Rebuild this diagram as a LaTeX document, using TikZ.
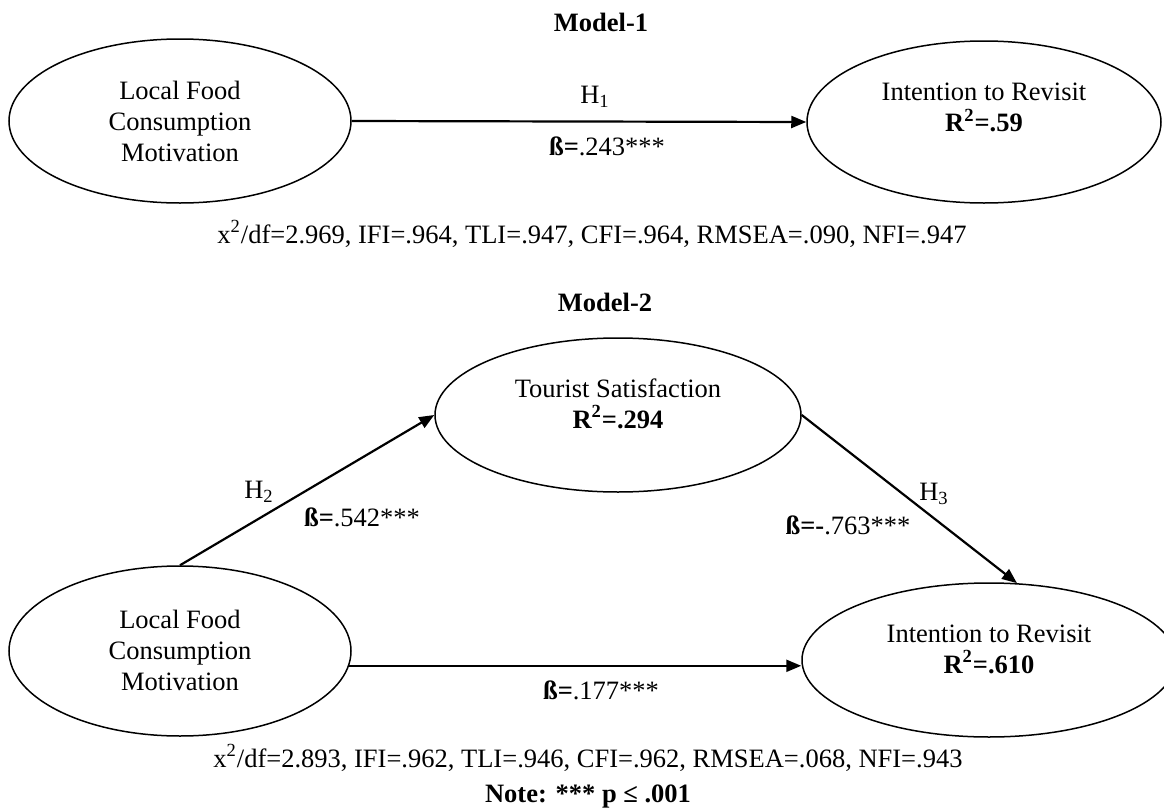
\documentclass[tikz,border=0pt]{standalone}
\usepackage{fontspec}
\setmainfont{Liberation Serif}
\usetikzlibrary{arrows.meta,shapes.geometric}
\begin{document}
\begin{tikzpicture}[x=0.5pt,y=-0.5pt,
  ell/.style={draw, ellipse, line width=0.75pt, inner sep=0pt},
  txt/.style={align=center, font=\fontsize{13.25}{15.5}\selectfont, inner sep=0pt},
  ttl/.style={font=\fontsize{13.25}{15.5}\selectfont\bfseries, inner sep=0pt},
  arr/.style={line width=1.1pt, -{Triangle[length=7.5pt,width=6pt]}}]
\clip (0,0) rectangle (1164,809);
% ---------- Model 1 ----------
\node[ttl] (t1) at (601,22) {Model-1};
\node[ell, minimum width=171pt, minimum height=82pt] (e1) at (180,121) {};
\node[txt] (e1t) at (180,121) {Local Food\\Consumption\\Motivation};
\node[ell, minimum width=177pt, minimum height=81pt] (e2) at (984,122) {};
\node[txt] (e2t) at (984,107.5) {Intention to Revisit\\\textbf{R\textsuperscript{2}=.59}};
\draw[arr] (e1.east) -- (e2.west);
\node[txt] (h1) at (595,97) {H\textsubscript{1}};
\node[txt] (b1) at (607,146) {\textbf{ß=}.243***};
\node[txt] (f1) at (592,234) {x\textsuperscript{2}/df=2.969, IFI=.964, TLI=.947, CFI=.964, RMSEA=.090, NFI=.947};
% ---------- Model 2 ----------
\node[ttl] (t2) at (605,302) {Model-2};
\node[ell, minimum width=183pt, minimum height=77pt] (e3) at (618,415) {};
\node[txt] (e3t) at (618,403.5) {Tourist Satisfaction\\\textbf{R\textsuperscript{2}=.294}};
\node[ell, minimum width=171pt, minimum height=85pt] (e4) at (180,651) {};
\node[txt] (e4t) at (180,650) {Local Food\\Consumption\\Motivation};
\node[ell, minimum width=187pt, minimum height=77pt] (e5) at (989,660) {};
\node[txt] (e5t) at (989,649) {Intention to Revisit\\\textbf{R\textsuperscript{2}=.610}};
\draw[arr] (e4.north) -- (e3.west);
\draw[arr] (e3.east) -- (e5.70);
\draw[arr] (e4.-5) -- (e4.-5 -| e5.west);
\node[txt] (h2) at (259,492) {H\textsubscript{2}};
\node[txt] (b2) at (362,517) {\textbf{ß=}.542***};
\node[txt] (h3) at (934,494) {H\textsubscript{3}};
\node[txt] (b3) at (848,525) {\textbf{ß=-}.763***};
\node[txt] (b4) at (601,690) {\textbf{ß=}.177***};
\node[txt] (f2) at (588,758) {x\textsuperscript{2}/df=2.893, IFI=.962, TLI=.946, CFI=.962, RMSEA=.068, NFI=.943};
\node[ttl] (nt) at (588,797) {Note: *** p ≤ .001};
\end{tikzpicture}
\end{document}
